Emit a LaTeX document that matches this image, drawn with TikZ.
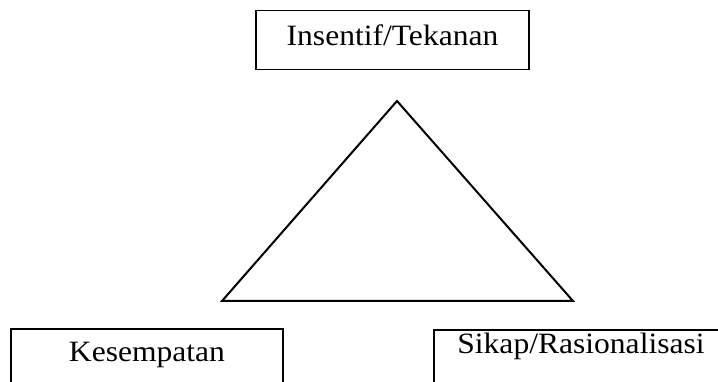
\documentclass[tikz,border=0pt]{standalone}
\usepackage{fontspec}
\setmainfont{Liberation Serif}[FakeStretch=1.07]
\usetikzlibrary{positioning}

\tikzset{
  factorbox/.style={draw, line width=1.5pt, inner xsep=0pt, inner ysep=0pt,
    font=\fontsize{29.5}{31}\selectfont},
}

\begin{document}
\begin{tikzpicture}[x=1pt, y=-1pt]
    \useasboundingbox (0,0) rectangle (718,382);
    \clip (0,0) rectangle (718,382);
    % the three corners of the fraud triangle
    \node[factorbox, anchor=north, minimum width=273pt, text height=35pt, text depth=24pt]
      (tekanan) at (392.5,10) {Insentif/Tekanan};
    \node[factorbox, anchor=north, minimum width=272pt, text height=33pt, text depth=32pt]
      (kesempatan) at (147,328) {Kesempatan};
    \node[factorbox, anchor=north, minimum width=294pt, text height=24pt, text depth=40pt]
      (rasionalisasi) at (581,329) {Sikap/Rasionalisasi};
    % triangle
    \coordinate (puncak) at (397,101);
    \coordinate (kiri) at (222,301);
    \coordinate (kanan) at (573,301);
    \draw[line width=2pt, line join=miter] (puncak) -- (kanan) -- (kiri) -- cycle;
  \end{tikzpicture}
\end{document}
